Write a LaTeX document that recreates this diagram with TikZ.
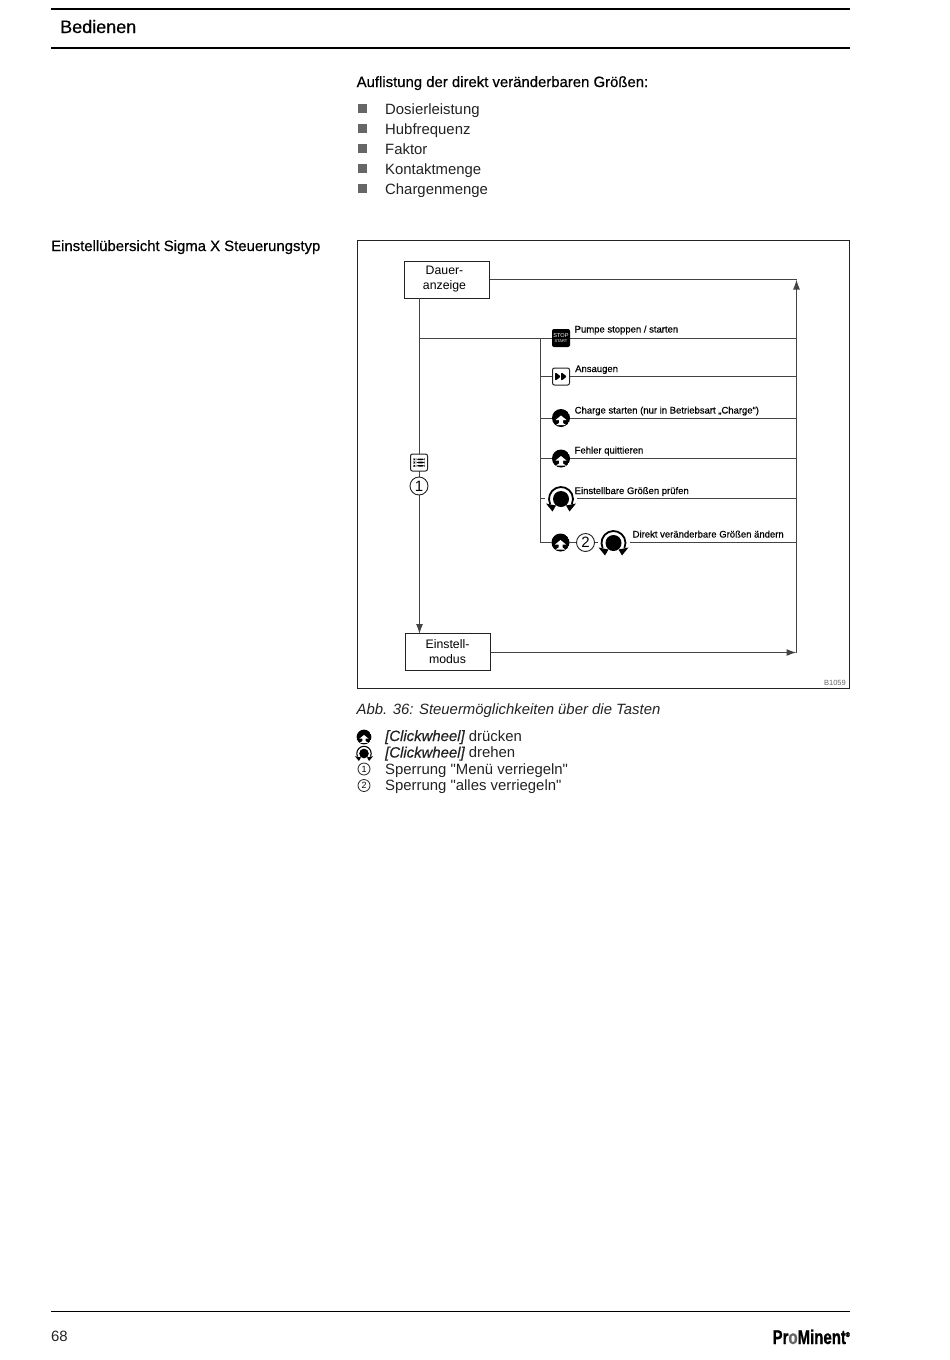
\documentclass[tikz,border=0pt]{standalone}
\usepackage{fontspec}
\setmainfont{Liberation Sans}[Ligatures=TeXOff]
\newfontfamily\heavyfont[FakeBold=0.5]{Liberation Sans}
\newfontfamily\logofont[FakeStretch=0.75,FakeBold=0.8]{Liberation Sans Bold}
\usetikzlibrary{arrows.meta,positioning,calc}
\definecolor{LineDark}{HTML}{222222}
\definecolor{BulletGray}{HTML}{666666}
\definecolor{FlowGray}{HTML}{444444}

\begin{document}
\begin{tikzpicture}[
  x=1pt, y=-1pt,
  txt/.style={anchor=base west, inner sep=0pt, font=\fontsize{14.9}{18}\selectfont, text=LineDark},
  headtxt/.style={anchor=base west, inner sep=0pt, font=\fontsize{14.9}{18}\selectfont\heavyfont, text=black},
  tiny/.style={anchor=base west, inner sep=0pt, font=\fontsize{9.5}{11}\selectfont\heavyfont, text=black},
  bullet/.style={fill=BulletGray, inner sep=0pt, minimum size=9pt},
  box/.style={draw=LineDark, line width=1pt, fill=white, minimum width=85pt, minimum height=37pt, inner sep=0pt, align=center, font=\fontsize{12.3}{15}\selectfont},
  flow/.style={draw=FlowGray, line width=1.2pt},
  arr/.style={flow, -{Latex[length=10pt,width=7pt]}},
  rule/.style={draw=black, line width=1.5pt},
  numring/.style={circle, draw=LineDark, line width=.9pt, fill=white, inner sep=0pt, minimum size=18pt, font=\fontsize{15}{15}\selectfont},
  numsmall/.style={circle, draw=LineDark, line width=.8pt, fill=white, inner sep=0pt, minimum size=12pt, font=\fontsize{9}{9}\selectfont},
  stopkey/.style={rounded corners=2pt, fill=black, text=white, inner sep=0pt, minimum size=18pt, align=center, font=\fontsize{5.6}{5}\selectfont},
  fwdkey/.style={rounded corners=2pt, draw=LineDark, line width=1pt, fill=white, inner sep=0pt, minimum size=17pt,
    path picture={\begin{scope}[shift={(path picture bounding box.center)}, x=1pt, y=1pt]
      \fill[black] (-6,4.5) -- (0,0) -- (-6,-4.5) -- cycle;
      \fill[black] (0,4.5) -- (6,0) -- (0,-4.5) -- cycle;
    \end{scope}}},
  menukey/.style={rounded corners=2pt, draw=LineDark, line width=1pt, fill=white, inner sep=0pt, minimum size=17pt,
    path picture={\begin{scope}[shift={(path picture bounding box.center)}, x=1pt, y=1pt]
      \fill[black] (-5.5,4) rectangle (-4,2.5); \fill[black] (-2.5,4) rectangle (5.5,2.5);
      \fill[black] (-5.5,.8) rectangle (-4,-.8); \fill[black] (-2.5,.8) rectangle (5.5,-.8);
      \fill[black] (-5.5,-2.5) rectangle (-4,-4); \fill[black] (-2.5,-2.5) rectangle (5.5,-4);
    \end{scope}}},
  presskey/.style={circle, fill=white, inner sep=0pt, minimum size=#1*18pt,
    path picture={\begin{scope}[shift={(path picture bounding box.center)}, x=#1pt, y=#1pt]
      \fill[black] (0,0) circle (9);
      \fill[white] (0,2.5) -- (5.5,-2) -- (2,-2) -- (2,-5) -- (5,-7) -- (-5,-7) -- (-2,-5) -- (-2,-2) -- (-5.5,-2) -- cycle;
    \end{scope}}},
  turnkey/.style={fill=white, inner sep=0pt, minimum size=#1*32pt,
    path picture={\begin{scope}[shift={(path picture bounding box.center)}, x=#1pt, y=#1pt]
      \fill[black] (0,0) circle (8);
      \draw[black, line width=#1*1.8pt] (205:12) arc[start angle=205, end angle=-25, radius=12];
      \fill[black] (-15,-4.5) -- (-5,-6.5) -- (-8.5,-12.5) -- cycle;
      \fill[black] (15,-4.5) -- (5,-6.5) -- (8.5,-12.5) -- cycle;
    \end{scope}}}
]
\useasboundingbox (0,0) rectangle (950,1360);

% page head
\coordinate (headl) at (51,9);
\coordinate (headr) at (850,9);
\coordinate (subl) at (51,47.5);
\coordinate (subr) at (850,47.5);
\draw[rule] (headl) -- (headr);
\draw[rule, line width=2pt] (subl) -- (subr);
\node[anchor=base west, inner sep=0pt, font=\fontsize{18}{20}\selectfont\heavyfont] (title) at (60,33) {Bedienen};

\node[headtxt] (listhead) at (356.5,87) {Auflistung der direkt veränderbaren Größen:};
\node[bullet] (b1) at (362,108) {};
\node[bullet] (b2) at (362,128) {};
\node[bullet] (b3) at (362,148) {};
\node[bullet] (b4) at (362,168) {};
\node[bullet] (b5) at (362,188) {};
\node[txt] (l1) at (385,114) {Dosierleistung};
\node[txt] (l2) at (385,134) {Hubfrequenz};
\node[txt] (l3) at (385,154) {Faktor};
\node[txt] (l4) at (385,174) {Kontaktmenge};
\node[txt] (l5) at (385,194) {Chargenmenge};

\node[headtxt] (sidehead) at (51,251) {Einstellübersicht Sigma X Steuerungstyp};

% frame
\node[draw=LineDark, line width=.9pt, minimum width=492pt, minimum height=447.5pt, inner sep=0pt, anchor=north west] (frame) at (357,240) {};
\node[anchor=south east, inner sep=0pt, font=\fontsize{7.5}{9}\selectfont, text=BulletGray] (figno) at (846,686) {B1059};

% flow nodes
\node[box] (dauer) at (447,279.5) {\hspace*{-5pt}Dauer-\\\hspace*{-5pt}anzeige};
\node[box] (einstell) at (447.5,652) {Einstell-\\modus};
\coordinate (sumtop) at (796.5,279.5);
\coordinate (sumbot) at (796.5,652.5);
\coordinate (trunktop) at (419.5,298);
\coordinate (trunkbot) at (419.5,634);
\coordinate (split) at (419.5,338.5);
\coordinate (railtop) at (540.5,338.5);
\coordinate (r1) at (796.5,338.5);
\coordinate (j2) at (540.5,376.5);
\coordinate (r2) at (796.5,376.5);
\coordinate (j3) at (540.5,418.5);
\coordinate (r3) at (796.5,418.5);
\coordinate (j4) at (540.5,458.5);
\coordinate (r4) at (796.5,458.5);
\coordinate (j5) at (540.5,498.5);
\coordinate (r5) at (796.5,498.5);
\coordinate (j6) at (540.5,542.5);
\coordinate (r6) at (796.5,542.5);

\draw[flow] (dauer.east |- sumtop) -- (sumtop);
\draw[arr] (sumbot) -- (sumtop);
\draw[arr] (einstell.east |- sumbot) -- (sumbot);
\draw[arr] (trunktop) -- (trunkbot);
\draw[flow] (split) -- (r1);
\draw[flow] (railtop) -- (j6);
\draw[flow] (j2) -- (r2);
\draw[flow] (j3) -- (r3);
\draw[flow] (j4) -- (r4);
\draw[flow] (j5) -- (r5);
\draw[flow] (j6) -- (r6);

% keys
\node[menukey] (menu) at (419,462.5) {};
\node[numring] (one) at (419,486) {1};
\node[stopkey] (stop) at (561,338) {STOP\\[-.5pt]{\fontsize{4}{4}\selectfont START}};
\node[fwdkey] (fwd) at (561,376.5) {};
\node[presskey=1] (press1) at (561,418) {};
\node[presskey=1] (press2) at (561,458.5) {};
\node[turnkey=1] (turn1) at (561,499) {};
\node[presskey=1] (press3) at (560.5,542.5) {};
\node[numring] (two) at (585.5,542.5) {2};
\node[turnkey=1] (turn2) at (613.5,543) {};

\node[tiny] (t1) at (574.5,332.5) {Pumpe stoppen / starten};
\node[tiny] (t2) at (575,372) {Ansaugen};
\node[tiny] (t3) at (574.5,413.5) {Charge starten (nur in Betriebsart „Charge“)};
\node[tiny] (t4) at (574.5,453.5) {Fehler quittieren};
\node[tiny] (t5) at (574.5,494) {Einstellbare Größen prüfen};
\node[tiny] (t6) at (632.5,537.5) {Direkt veränderbare Größen ändern};

% caption and legend
\node[txt, font=\fontsize{14.9}{18}\selectfont\itshape] (caption) at (356.5,714.5) {Abb. 36: Steuermöglichkeiten über die Tasten};
\node[turnkey=.6] (legturn) at (364,753.5) {};
\node[presskey=.82] (legpress) at (364,737) {};
\node[numsmall] (legone) at (364,769) {1};
\node[numsmall] (legtwo) at (364,785.5) {2};
\node[txt] (leg1) at (385,741) {{\heavyfont\itshape [Clickwheel]} drücken};
\node[txt] (leg2) at (385,757.5) {{\heavyfont\itshape [Clickwheel]} drehen};
\node[txt] (leg3) at (385,774) {Sperrung "Menü verriegeln"};
\node[txt] (leg4) at (385,790.5) {Sperrung "alles verriegeln"};

% page foot
\coordinate (footl) at (51,1311.5);
\coordinate (footr) at (850,1311.5);
\draw[rule] (footl) -- (footr);
\node[txt] (pageno) at (51,1341) {68};
\node[anchor=base east, inner sep=0pt, font=\fontsize{20}{20}\selectfont\logofont, text=black] (logo) at (850,1344) {Pr{\color{BulletGray}o}Minent\raisebox{7pt}{\fontsize{7}{7}\selectfont ®}};
\end{tikzpicture}
\end{document}
